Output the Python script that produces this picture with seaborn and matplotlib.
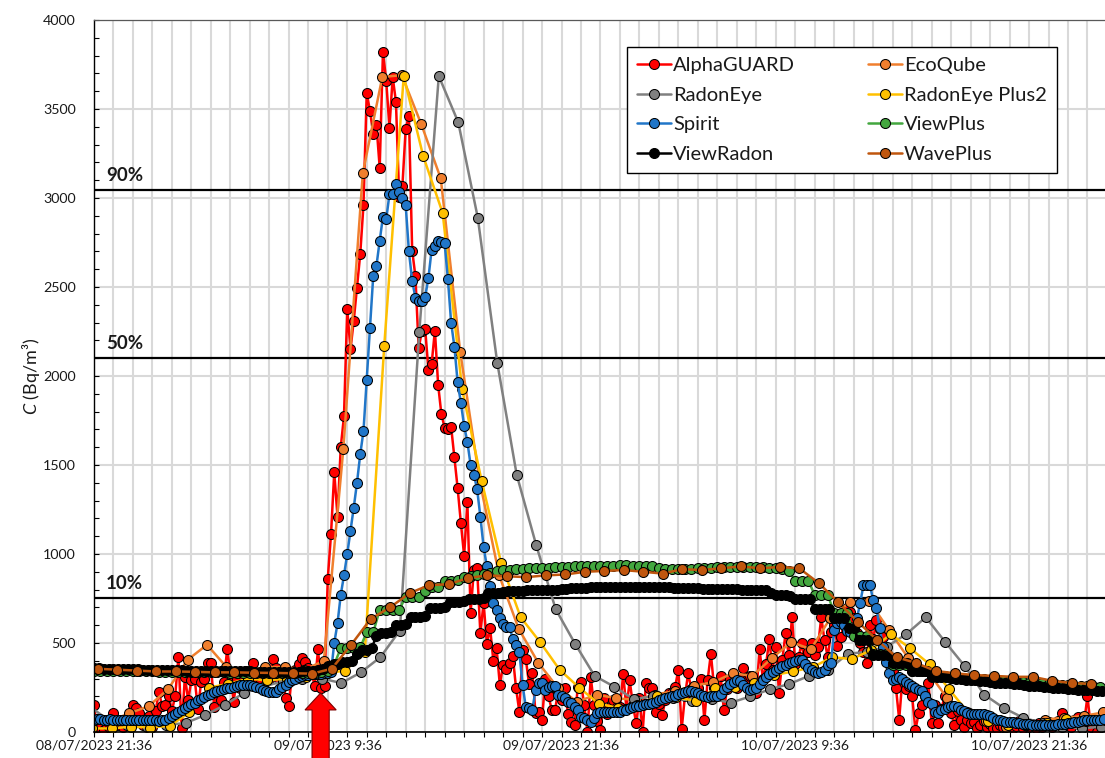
import numpy as np
import pandas as pd
import matplotlib
matplotlib.use("Agg")
import matplotlib.pyplot as plt
import matplotlib.dates as mdates
from matplotlib.lines import Line2D
from matplotlib.patches import Polygon
from matplotlib.ticker import MultipleLocator, FixedLocator
import seaborn as sns

# ---------------- data ----------------
devices = ["AlphaGUARD", "EcoQube", "RadonEye", "RadonEye Plus2",
           "Spirit", "ViewPlus", "ViewRadon", "WavePlus"]
colors = ["#FF0000", "#F07F2E", "#808080", "#FFC000",
          "#2176C8", "#43A73F", "#000000", "#C0560E"]

starts = {"AlphaGUARD": "2023-07-08 21:36", "Spirit": "2023-07-08 21:36",
          "ViewRadon": "2023-07-08 21:36", "ViewPlus": "2023-07-08 21:36",
          "WavePlus": "2023-07-08 21:48", "EcoQube": "2023-07-08 21:24",
          "RadonEye": "2023-07-08 21:18", "RadonEye Plus2": "2023-07-08 21:30"}
freqs = {"AlphaGUARD": "10min", "Spirit": "10min", "ViewRadon": "15min",
         "ViewPlus": "20min", "WavePlus": "60min", "EcoQube": "60min",
         "RadonEye": "60min", "RadonEye Plus2": "60min"}

alphaguard = [
    150, 0, 20, 10, 40, 20,
    105, 40, 60, 30, 50, 80,
    150, 135, 105, 40, 60, 90,
    30, 120, 225, 145, 150, 200,
    120, 200, 420, 25, 310, 180,
    290, 300, 130, 280, 300, 390,
    385, 140, 225, 180, 280, 465,
    330, 170, 300, 250, 320, 280,
    340, 390, 300, 270, 330, 350,
    300, 410, 360, 300, 340, 190,
    145, 330, 350, 380, 415, 395,
    360, 330, 260, 465, 245, 260,
    860, 1110, 1460, 1210, 1600, 1775,
    2375, 2150, 2310, 2495, 2685, 2960,
    3590, 3490, 3360, 3410, 3170, 3820,
    3660, 3395, 3680, 3540, 3005, 3070,
    3390, 3460, 2705, 2560, 2155, 2255,
    2265, 2035, 2070, 2255, 1950, 1785,
    1710, 1700, 1715, 1545, 1370, 1175,
    990, 1290, 670, 910, 920, 555,
    725, 495, 585, 400, 470, 265,
    375, 355, 390, 425, 245, 115,
    460, 410, 270, 330, 105, 115,
    70, 295, 200, 125, 125, 230,
    180, 250, 100, 55, 40, 255,
    280, 150, 0, 310, 150, 60,
    10, 190, 100, 140, 180, 140,
    140, 325, 130, 290, 150, 50,
    190, 0, 275, 245, 245, 115,
    160, 95, 180, 220, 220, 255,
    350, 15, 200, 330, 240, 180,
    250, 300, 65, 290, 440, 250,
    200, 315, 125, 240, 300, 280,
    250, 300, 360, 290, 315, 220,
    220, 465, 300, 380, 520, 350,
    480, 220, 405, 555, 430, 645,
    380, 420, 500, 380, 450, 500,
    430, 480, 645, 515, 420, 560,
    600, 485, 535, 600, 695, 675,
    640, 555, 500, 450, 390, 600,
    520, 630, 580, 535, 420, 380,
    350, 250, 70, 300, 240, 260,
    200, 10, 105, 150, 200, 275,
    50, 150, 50, 130, 200, 160,
    105, 40, 120, 65, 30, 70,
    50, 55, 20, 40, 60, 30,
    45, 25, 20, 40, 30, 50,
    50, 20, 35, 60, 25, 40,
    30, 45, 20, 50, 30, 40,
    55, 30, 45, 60, 105, 40,
    50, 30, 70, 85, 40, 60,
    200, 30, 60, 0, 70, 100,
]

spirit = [
    70, 72, 72, 70, 70, 72,
    70, 70, 68, 68, 70, 70,
    68, 66, 66, 68, 70, 70,
    68, 66, 64, 66, 70, 78,
    90, 100, 112, 125, 135, 145,
    155, 165, 178, 188, 198, 208,
    215, 222, 228, 235, 240, 245,
    250, 255, 260, 263, 265, 265,
    262, 258, 252, 245, 238, 232,
    225, 222, 225, 240, 255, 265,
    280, 290, 300, 310, 315, 320,
    322, 325, 325, 325, 328, 330,
    330, 335, 500, 610, 770, 880,
    1000, 1130, 1260, 1400, 1560, 1690,
    1980, 2270, 2560, 2620, 2760, 2895,
    2880, 3020, 3020, 3080, 3035, 3000,
    2960, 2700, 2535, 2440, 2420, 2420,
    2445, 2550, 2710, 2730, 2760, 2755,
    2745, 2545, 2300, 2165, 1965, 1850,
    1720, 1630, 1500, 1445, 1365, 1210,
    1040, 930, 820, 725, 685, 640,
    605, 590, 590, 520, 490, 450,
    265, 140, 135, 125, 235, 275,
    275, 235, 255, 260, 260, 210,
    200, 190, 170, 165, 140, 125,
    85, 80, 70, 55, 80, 105,
    115, 115, 110, 115, 115, 115,
    115, 125, 125, 135, 140, 145,
    145, 150, 155, 160, 165, 170,
    180, 185, 190, 195, 200, 205,
    212, 220, 225, 230, 230, 225,
    220, 210, 200, 198, 200, 205,
    205, 215, 240, 255, 270, 280,
    290, 285, 265, 250, 235, 240,
    250, 270, 290, 310, 325, 335,
    350, 360, 368, 375, 385, 395,
    400, 405, 405, 380, 360, 350,
    335, 330, 335, 350, 375, 390,
    575, 610, 620, 600, 570, 560,
    580, 640, 725, 825, 825, 825,
    740, 695, 585, 480, 395, 330,
    290, 300, 310, 295, 280, 270,
    260, 250, 235, 230, 200, 170,
    160, 110, 105, 125, 130, 140,
    145, 145, 140, 125, 120, 105,
    100, 100, 100, 100, 100, 95,
    90, 80, 70, 65, 60, 55,
    55, 55, 50, 50, 45, 45,
    45, 42, 40, 40, 40, 40,
    40, 40, 42, 45, 45, 45,
    50, 50, 55, 55, 60, 65,
    70, 70, 65, 70, 70, 75,
]

viewradon = [
    360, 358, 356, 355, 355, 355, 353, 353, 352, 352, 350, 350,
    350, 348, 348, 347, 347, 346, 346, 345, 345, 344, 344, 343,
    343, 342, 342, 342, 341, 341, 340, 340, 340, 339, 339, 338,
    338, 338, 337, 337, 337, 338, 338, 340, 342, 345, 350, 355,
    370, 375, 380, 395, 395, 400, 440, 460, 460, 470, 540, 555,
    555, 560, 600, 600, 605, 645, 645, 645, 650, 695, 695, 695,
    700, 730, 730, 730, 735, 750, 750, 750, 755, 780, 780, 780,
    785, 790, 790, 790, 790, 795, 795, 795, 800, 800, 800, 800,
    805, 805, 808, 810, 810, 810, 812, 812, 812, 815, 815, 815,
    815, 815, 815, 815, 815, 815, 815, 813, 813, 812, 812, 810,
    810, 810, 808, 808, 808, 806, 806, 805, 805, 805, 803, 803,
    802, 800, 800, 798, 797, 795, 795, 780, 770, 770, 770, 765,
    750, 750, 750, 745, 690, 690, 690, 690, 640, 640, 640, 585,
    585, 515, 515, 515, 430, 430, 430, 430, 390, 390, 390, 390,
    340, 340, 340, 340, 310, 310, 310, 310, 305, 300, 295, 290,
    290, 290, 288, 286, 280, 278, 276, 275, 275, 272, 270, 265,
    260, 258, 256, 255, 252, 250, 248, 245, 242, 240, 238, 236,
    235, 234, 233, 232,
]

viewplus = [
    345, 345, 344, 343, 343, 342, 341, 341, 340, 340, 339, 339,
    338, 338, 337, 337, 336, 336, 335, 335, 335, 334, 334, 333,
    333, 332, 332, 331, 331, 330, 330, 330, 330, 330, 332, 335,
    345, 380, 470, 470, 470, 475, 560, 560, 685, 685, 685, 685,
    760, 760, 760, 790, 815, 815, 850, 850, 855, 870, 875, 880,
    885, 895, 905, 910, 910, 915, 918, 920, 920, 922, 922, 925,
    925, 928, 930, 930, 932, 932, 935, 935, 935, 937, 937, 935,
    935, 935, 930, 920, 915, 915, 915, 918, 918, 920, 920, 920,
    925, 925, 925, 928, 928, 925, 925, 925, 922, 920, 915, 905,
    850, 850, 850, 770, 770, 770, 670, 670, 670, 540, 540, 540,
    440, 440, 440, 375, 375, 375, 345, 345, 340, 320, 320, 315,
    305, 305, 300, 300, 298, 295, 292, 290, 288, 285, 283, 280,
    278, 275, 273, 270, 268, 265, 262, 260, 258, 256, 254, 252,
]

waveplus = [
    355, 350, 345, 340, 340, 338, 335, 335, 333, 332, 330, 328,
    355, 490, 635, 700, 780, 825, 830, 865, 880, 875, 870, 880,
    885, 900, 905, 910, 900, 890, 915, 910, 920, 930, 920, 927,
    920, 837, 730, 620, 517, 420, 388, 343, 330, 320, 315, 310,
    310, 287, 275, 270,
]

ecoqube = [
    40, 60, 105, 145, 240, 405, 490, 365, 340, 365, 365, 350, 400,
    1590, 3140, 3680, 3690, 3415, 3110, 2135, 1410, 880, 580, 390,
    250, 170, 210, 190, 180, 210, 230, 260, 280, 330, 315, 415, 505,
    465, 640, 730, 735, 575, 415, 340, 190, 110, 60, 30, 40, 70, 80,
    90, 110,
]

radoneye = [
    150, 70, 40, 30, 40, 50, 95, 150, 220, 255, 285, 300, 300,
    275, 335, 420, 570, 2250, 3685, 3425, 2890, 2075, 1445, 1050,
    690, 495, 315, 255, 185, 200, 190, 175, 185, 165, 200, 240, 270,
    315, 350, 440, 450, 480, 550, 645, 505, 370, 210, 135, 80, 50,
    30, 20, 30,
]

radoneye_plus2 = [
    20, 20, 30, 25, 35, 110, 250, 270, 300, 290, 300, 310, 330,
    345, 450, 2170, 3685, 3235, 2915, 1925, 1410, 950, 645, 505,
    350, 250, 160, 135, 150, 200, 195, 175, 245, 255, 275, 320, 340,
    365, 420, 410, 460, 550, 470, 380, 240, 105, 60, 40, 40, 50, 75,
    60, 70,
]

series = {"AlphaGUARD": alphaguard, "EcoQube": ecoqube, "RadonEye": radoneye,
          "RadonEye Plus2": radoneye_plus2, "Spirit": spirit,
          "ViewPlus": viewplus, "ViewRadon": viewradon, "WavePlus": waveplus}

threshold_labels = ["10%", "50%", "90%"]
threshold_values = [753, 2101, 3047]

xtick_labels = ["08/07/2023 21:36", "09/07/2023 9:36", "09/07/2023 21:36",
                "10/07/2023 9:36", "10/07/2023 21:36"]
axis_start = "2023-07-08 21:36"
arrow_time = "2023-07-09 09:14"

# ---------------- build frame ----------------
frames = []
for name in devices:
    vals = series[name]
    t = pd.date_range(starts[name], periods=len(vals), freq=freqs[name])
    frames.append(pd.DataFrame({"time": t, "C": vals, "device": name}))
df = pd.concat(frames, ignore_index=True)

# ---------------- style ----------------
sns.set_style("white")
plt.rcParams["font.family"] = ["Lato", "DejaVu Sans"]
plt.rcParams["mathtext.fontset"] = "custom"
plt.rcParams["mathtext.it"] = "Lato:italic"
plt.rcParams["mathtext.rm"] = "Lato"
text_col = "#1a1a1a"

W, H = 1105, 758
fig = plt.figure(figsize=(W / 100, H / 100), dpi=100)
ax = fig.add_axes([94 / W, 26 / H, (W - 94) / W, 712 / H])

t0 = pd.Timestamp(axis_start)
px_per_hour = 19.48
hours_span = (W - 94) / px_per_hour

# gridlines
ax.set_axisbelow(True)
hour_ticks = pd.date_range(t0, periods=int(hours_span) + 2, freq="h")
ax.xaxis.set_minor_locator(FixedLocator(mdates.date2num(hour_ticks)))
major_ticks = pd.to_datetime(xtick_labels, format="%d/%m/%Y %H:%M")
ax.set_xticks(mdates.date2num(major_ticks))
ax.set_xticklabels(xtick_labels)
ax.grid(True, which="both", axis="x", color="#D9D9D9", lw=1.5)
ax.yaxis.set_major_locator(MultipleLocator(500))
ax.yaxis.set_minor_locator(MultipleLocator(100))
ax.grid(True, which="major", axis="y", color="#D9D9D9", lw=1.5)

# threshold lines
for lab, val in zip(threshold_labels, threshold_values):
    ax.axhline(val, color="black", lw=1.6, zorder=1.6)
    ax.annotate(lab, xy=(mdates.date2num(t0 + pd.Timedelta(hours=0.62)), val),
                xytext=(0, 4), textcoords="offset points",
                ha="left", va="bottom", fontsize=13.5, fontweight="bold",
                color=text_col, zorder=5)

sns.lineplot(data=df, x="time", y="C", hue="device", hue_order=devices,
             palette=colors, marker="o", markersize=7.2,
             markeredgecolor="black", markeredgewidth=0.75, linewidth=1.8,
             estimator=None, errorbar=None, sort=False, legend=False, ax=ax)

ax.set_xlim(mdates.date2num(t0), mdates.date2num(t0 + pd.Timedelta(hours=hours_span)))
ax.set_ylim(0, 4000)

# ticks & spines
ax.tick_params(axis="x", which="both", direction="out", length=3.5, width=0.8,
               color="black", labelsize=10, labelcolor=text_col, pad=2, bottom=True)
ax.tick_params(axis="y", which="both", direction="in", length=3.8, width=0.8,
               color="black", labelsize=10.3, labelcolor=text_col, pad=13, left=True)
ax.spines["left"].set_color("black")
ax.spines["left"].set_linewidth(1.0)
ax.spines["bottom"].set_color("black")
ax.spines["bottom"].set_linewidth(1.2)
ax.spines["top"].set_color("#595959")
ax.spines["top"].set_linewidth(0.9)
ax.spines["right"].set_visible(False)

ax.set_xlabel("")
ax.set_ylabel(r"$C$ (Bq/m³)", fontsize=13, color=text_col, labelpad=1)

# legend
col_order = ["AlphaGUARD", "RadonEye", "Spirit", "ViewRadon",
             "EcoQube", "RadonEye Plus2", "ViewPlus", "WavePlus"]
cmap = dict(zip(devices, colors))
handles = [Line2D([], [], color=cmap[d], marker="o", markerfacecolor=cmap[d],
                  markeredgecolor="black", markeredgewidth=0.75,
                  markersize=7.2, lw=1.8) for d in col_order]
leg = ax.legend(handles, col_order, ncol=2, loc="upper left",
                bbox_to_anchor=(0.527, 0.962), fontsize=14.5, frameon=True,
                fancybox=False, edgecolor="black", framealpha=1,
                borderpad=0.5, labelspacing=0.62, handlelength=1.7,
                handletextpad=0.1, columnspacing=3.6, borderaxespad=0)
leg.get_frame().set_linewidth(1.0)
for txt in leg.get_texts():
    txt.set_color(text_col)
leg.set_zorder(10)

# red arrow marking the start of the release
c = mdates.date2num(pd.Timestamp(arrow_time))
hw = 0.80 / 24
sw = 0.44 / 24
tip, base, bottom = 219, 124, -170
arrow = Polygon([(c, tip), (c + hw, base), (c + sw, base), (c + sw, bottom),
                 (c - sw, bottom), (c - sw, base), (c - hw, base)],
                closed=True, facecolor="#FF0000", edgecolor="#7A0000",
                lw=0.8, clip_on=False, zorder=20)
ax.add_patch(arrow)

fig.savefig("out.png", dpi=100)
